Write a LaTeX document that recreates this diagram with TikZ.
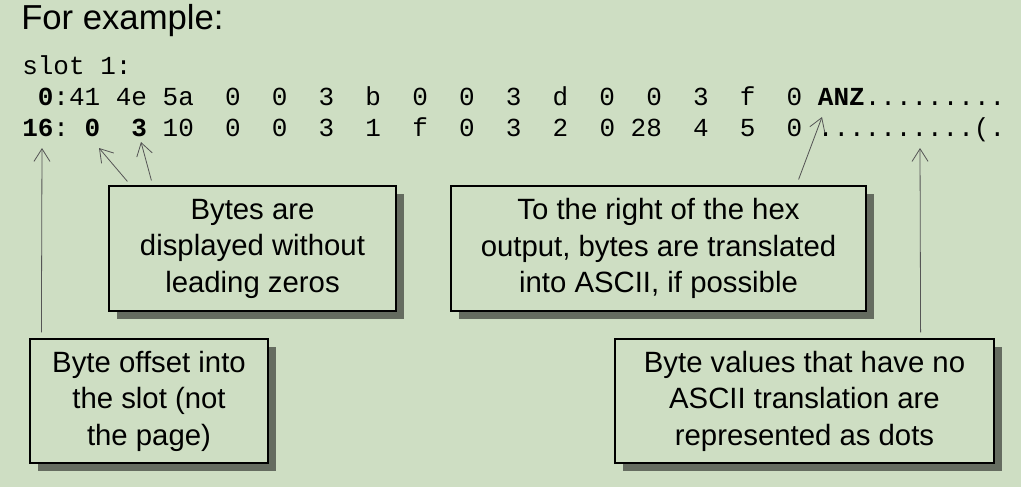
\documentclass[tikz,border=0pt]{standalone}
\usepackage{fontspec}
\setmainfont{Liberation Sans}
\setmonofont{Liberation Mono}
\usetikzlibrary{arrows.meta,shadows}

\definecolor{slidebg}{RGB}{206,222,195}
\definecolor{shadowc}{RGB}{101,108,96}
\definecolor{linec}{RGB}{85,85,85}

\begin{document}
\begin{tikzpicture}[x=0.75pt, y=-0.75pt,
  note/.style={draw=black, line width=0.9pt, fill=slidebg, align=center, inner sep=0pt,
    font=\fontsize{22}{27.4}\selectfont,
    general shadow={fill=shadowc, shadow xshift=6pt, shadow yshift=-6pt}},
  hexrow/.style={anchor=base west, inner sep=0pt, font=\ttfamily\fontsize{19.5}{23}\selectfont},
  ptr/.style={draw=linec, line width=0.6pt, -{Straight Barb[length=9.5pt,width=12pt]}}]
\useasboundingbox[fill=slidebg] (0,0) rectangle (1021,487);

%heading
\node[anchor=base west, inner sep=0pt, font=\fontsize{26}{30}\selectfont] (title) at (21,29) {For example:};

%dump lines
\node[hexrow] (slot) at (22,74) {slot~1:};
\node[hexrow] (row0) at (22,105) {~\textbf{0}:41~4e~5a~~0~~0~~3~~b~~0~~0~~3~~d~~0~~0~~3~~f~~0~\textbf{ANZ}.........};
\node[hexrow] (row16) at (22,136) {\textbf{16}:~\textbf{0}~~\textbf{3}~10~~0~~0~~3~~1~~f~~0~~3~~2~~0~28~~4~~5~~0~..........(.};

%arrow tips
\coordinate (off16) at (42,148);
\coordinate (zero16) at (99,148);
\coordinate (three16) at (141,142);
\coordinate (anz) at (822,117);
\coordinate (dots16) at (920,148);

%notes
\node[note, minimum width=215.25pt, minimum height=93.75pt] (bytes) at (252.5,248.5) {Bytes are\\displayed without\\leading zeros};
\node[note, minimum width=311.25pt, minimum height=93.75pt] (ascii) at (658.5,248.5) {To the right of the hex\\output, bytes are translated\\into ASCII, if possible};
\node[note, minimum width=178.5pt, minimum height=93pt] (offset) at (149,401) {Byte offset into\\the slot (not\\the page)};
\node[note, minimum width=284.25pt, minimum height=93pt] (nodots) at (804.5,401) {Byte values that have no\\ASCII translation are\\represented as dots};

%pointers
\draw[ptr] ([xshift=9pt,yshift=4.5pt]offset.north west) -- (off16);
\draw[ptr] ([xshift=14.25pt,yshift=3pt]bytes.north west) -- (zero16);
\draw[ptr] ([xshift=32.25pt,yshift=3.75pt]bytes.north west) -- (three16);
\draw[ptr] ([xshift=-51pt,yshift=4.5pt]ascii.north east) -- (anz);
\draw[ptr] ([xshift=-55.5pt,yshift=4.5pt]nodots.north east) -- (dots16);
\end{tikzpicture}
\end{document}
